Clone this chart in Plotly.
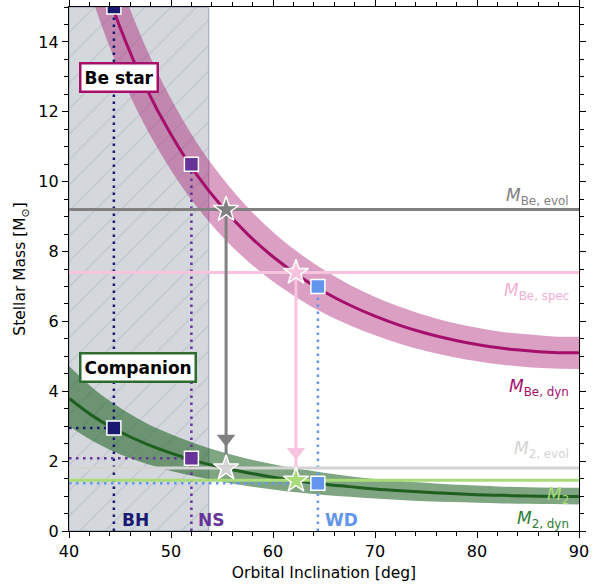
import plotly.graph_objects as go

# ---------------- data ----------------
incl = [40, 42.5, 45, 47.5, 50, 52.5, 55, 57.5, 60, 62.5, 65, 67.5, 70, 72.5, 75, 77.5, 80, 82.5, 85, 87.5, 90]

be_dyn = [19.20, 16.54, 14.42, 12.72, 11.35, 10.21, 9.28, 8.50, 7.85, 7.31, 6.85, 6.47, 6.15, 5.88, 5.66, 5.48, 5.34, 5.23, 5.16, 5.11, 5.10]
be_dyn_hi = [20.93, 18.03, 15.72, 13.87, 12.37, 11.13, 10.12, 9.27, 8.56, 7.97, 7.47, 7.05, 6.70, 6.41, 6.17, 5.97, 5.82, 5.70, 5.63, 5.57, 5.56]
be_dyn_lo = [17.47, 15.05, 13.12, 11.57, 10.33, 9.29, 8.44, 7.73, 7.14, 6.65, 6.23, 5.89, 5.60, 5.35, 5.15, 4.99, 4.86, 4.76, 4.69, 4.65, 4.64]

m2_dyn = [3.80, 3.26, 2.84, 2.50, 2.23, 2.00, 1.82, 1.67, 1.54, 1.43, 1.34, 1.27, 1.20, 1.15, 1.11, 1.07, 1.04, 1.02, 1.00, 0.99, 0.99]
m2_dyn_hi = [4.72, 4.05, 3.53, 3.10, 2.77, 2.49, 2.26, 2.07, 1.91, 1.78, 1.67, 1.57, 1.49, 1.43, 1.38, 1.33, 1.30, 1.27, 1.25, 1.24, 1.24]
m2_dyn_lo = [3.00, 2.55, 2.20, 1.93, 1.72, 1.55, 1.41, 1.29, 1.19, 1.10, 1.03, 0.98, 0.93, 0.89, 0.85, 0.83, 0.81, 0.79, 0.78, 0.77, 0.76]

# horizontal reference masses
m_be_evol = 9.2
m_be_spec = 7.4
m2_evol = 1.8
m2_val = 1.45

# excluded (hatched) inclination range
excl_range = [40, 53.7]

# compact-object solutions: name, inclination, Be mass, companion mass
co_names = ["BH", "NS", "WD"]
co_incl = [44.4, 52.0, 64.4]
co_be_mass = [15.0, 10.5, 7.0]
co_m2_mass = [2.95, 2.08, 1.37]

# star markers: inclination, Be mass, companion mass
star_incl = [55.4, 62.25]
star_be = [9.2, 7.4]
star_m2 = [1.8, 1.45]
arrow_tip = [2.64, 2.26]

# label positions
co_label_x = [45.0, 52.45, 64.9]
co_label_y = 0.32

# ---------------- colours ----------------
C_BE = "#a50f6b"
C_BE_BAND = "rgba(165,15,107,0.40)"
C_M2 = "#1f5f1f"
C_M2_BAND = "rgba(27,94,32,0.56)"
C_EVOL = "#808080"
C_SPEC = "#f7c3de"
C_M2EVOL = "#d3d3d3"
C_M2OBS = "#a9dc78"
C_CO = ["#191970", "#663399", "#6495ED"]

FONT = "DejaVu Sans"
DOT = "2.5px,4.5px"

fig = go.Figure()

# hatched excluded region
fig.add_trace(go.Scatter(
    x=[excl_range[0], excl_range[1], excl_range[1], excl_range[0], excl_range[0]],
    y=[0, 0, 15, 15, 0],
    mode="lines", fill="toself",
    fillcolor="rgba(112,128,144,0.30)",
    fillpattern=dict(shape="/", bgcolor="rgba(112,128,144,0.30)",
                     fgcolor="rgba(150,160,175,0.8)", size=18, solidity=0.06),
    line=dict(color="rgba(112,128,160,0.45)", width=1.5),
    hoverinfo="skip"))

# Be dynamical band
fig.add_trace(go.Scatter(x=incl, y=be_dyn_hi, mode="lines", line=dict(width=0, shape="spline"),
                         hoverinfo="skip"))
fig.add_trace(go.Scatter(x=incl, y=be_dyn_lo, mode="lines", line=dict(width=0, shape="spline"),
                         fill="tonexty", fillcolor=C_BE_BAND, hoverinfo="skip"))
# companion dynamical band
fig.add_trace(go.Scatter(x=incl, y=m2_dyn_hi, mode="lines", line=dict(width=0, shape="spline"),
                         hoverinfo="skip"))
fig.add_trace(go.Scatter(x=incl, y=m2_dyn_lo, mode="lines", line=dict(width=0, shape="spline"),
                         fill="tonexty", fillcolor=C_M2_BAND, hoverinfo="skip"))

# dotted guide lines for compact objects
for name, xi, yb, y2, col in zip(co_names, co_incl, co_be_mass, co_m2_mass, C_CO):
    fig.add_trace(go.Scatter(x=[xi, xi], y=[0, yb], mode="lines",
                             line=dict(color=col, width=2.5, dash=DOT)))
    fig.add_trace(go.Scatter(x=[40, xi], y=[y2, y2], mode="lines",
                             line=dict(color=col, width=2.5, dash=DOT)))

# horizontal reference lines
for yv, col in [(m_be_evol, C_EVOL), (m_be_spec, C_SPEC), (m2_evol, C_M2EVOL)]:
    fig.add_trace(go.Scatter(x=[40, 90], y=[yv, yv], mode="lines", line=dict(color=col, width=3)))

# dynamical mass curves
fig.add_trace(go.Scatter(x=incl, y=be_dyn, mode="lines", line=dict(color=C_BE, width=3, shape="spline")))
fig.add_trace(go.Scatter(x=incl, y=m2_dyn, mode="lines", line=dict(color=C_M2, width=3, shape="spline")))
fig.add_trace(go.Scatter(x=[40, 90], y=[m2_val, m2_val], mode="lines", line=dict(color=C_M2OBS, width=3)))

# arrows
arrow_cols = [C_EVOL, C_SPEC]
for xi, y0, y1, ys, col in zip(star_incl, star_be, arrow_tip, star_m2, arrow_cols):
    fig.add_trace(go.Scatter(x=[xi, xi], y=[y0, ys], mode="lines", line=dict(color=col, width=3)))
    fig.add_trace(go.Scatter(x=[xi], y=[y1], mode="markers",
                             marker=dict(symbol="triangle-down", size=16, color=col, line=dict(width=0))))

# compact-object squares
fig.add_trace(go.Scatter(x=co_incl + co_incl, y=co_be_mass + co_m2_mass, mode="markers",
                         marker=dict(symbol="square", size=14, color=C_CO + C_CO,
                                     line=dict(color="white", width=1.5))))

# stars
fig.add_trace(go.Scatter(x=star_incl + star_incl, y=star_be + star_m2, mode="markers",
                         marker=dict(symbol="star", size=19,
                                     color=[C_EVOL, C_SPEC, C_M2EVOL, C_M2OBS],
                                     line=dict(color="white", width=1.5))))

annotations = []
# boxed labels
annotations.append(dict(x=44.9, y=12.97, xref="x", yref="y", text="<b>Be star</b>", showarrow=False,
                        font=dict(family=FONT, size=17, color="black"), bgcolor="white",
                        bordercolor=C_BE, borderwidth=2.5, borderpad=3))
annotations.append(dict(x=46.76, y=4.68, xref="x", yref="y", text="<b>Companion</b>", showarrow=False,
                        font=dict(family=FONT, size=17, color="black"), bgcolor="white",
                        bordercolor="#2e6b2e", borderwidth=2.5, borderpad=3))

# right-hand labels
right_labels = [
    ("<i>M</i><sub>Be, evol</sub>", 9.58, C_EVOL),
    ("<i>M</i><sub>Be, spec</sub>", 6.87, "#f2afd3"),
    ("<i>M</i><sub>Be, dyn</sub>", 4.12, C_BE),
    ("<i>M</i><sub>2, evol</sub>", 2.33, C_M2EVOL),
    ("<i>M</i><sub>2</sub>", 1.02, C_M2OBS),
    ("<i>M</i><sub>2, dyn</sub>", 0.33, "#2e7d32"),
]
for txt, yv, col in right_labels:
    annotations.append(dict(x=89.2, y=yv, xref="x", yref="y", text=txt, showarrow=False,
                            xanchor="right", yanchor="middle",
                            font=dict(family=FONT, size=17, color=col)))

# compact-object labels
for name, lx, col in zip(co_names, co_label_x, C_CO):
    annotations.append(dict(x=lx, y=co_label_y, xref="x", yref="y", text=f"<b>{name}</b>",
                            showarrow=False, xanchor="left", yanchor="middle",
                            font=dict(family=FONT, size=17, color=col)))

fig.update_layout(
    width=607, height=588,
    margin=dict(l=69, r=28, t=7, b=57, autoexpand=False),
    plot_bgcolor="white", paper_bgcolor="white",
    showlegend=False,
    font=dict(family=FONT, size=16, color="black"),
    annotations=annotations,
)
fig.update_xaxes(
    range=[40, 90], tick0=40, dtick=10, ticks="outside", ticklen=6, tickwidth=1, tickcolor="black",
    minor=dict(dtick=2, ticks="outside", ticklen=3.5, tickwidth=0.8, tickcolor="black"),
    showline=True, linecolor="black", linewidth=1.2, mirror="allticks",
    showgrid=False, zeroline=False, automargin=False,
    tickfont=dict(family=FONT, size=16, color="black"),
    title=dict(text="Orbital Inclination [deg]", font=dict(family=FONT, size=15.5), standoff=6),
)
fig.update_yaxes(
    range=[0, 15], tick0=0, dtick=2, ticks="outside", ticklen=6, tickwidth=1, tickcolor="black",
    minor=dict(dtick=0.5, ticks="outside", ticklen=3.5, tickwidth=0.8, tickcolor="black"),
    showline=True, linecolor="black", linewidth=1.2, mirror="allticks",
    showgrid=False, zeroline=False, automargin=False,
    tickfont=dict(family=FONT, size=16, color="black"),
    title=dict(text="Stellar Mass [M<sub>⊙</sub>]", font=dict(family=FONT, size=15.5), standoff=8),
)

fig.write_html("out.html")
